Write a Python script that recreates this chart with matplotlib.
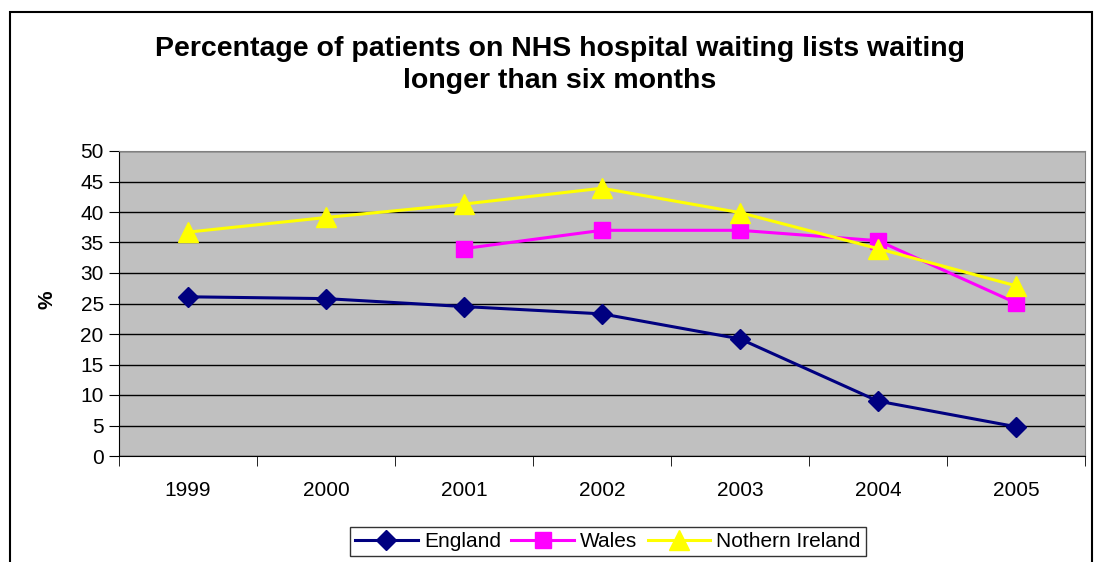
import matplotlib.pyplot as plt
from matplotlib.patches import Rectangle

# Data
years = ['1999', '2000', '2001', '2002', '2003', '2004', '2005']
england = [26.1, 25.8, 24.5, 23.3, 19.2, 9.0, 4.8]
wales = [None, None, 34.0, 37.0, 37.0, 35.3, 25.1]
northern_ireland = [36.7, 39.1, 41.3, 43.9, 39.9, 34.0, 27.9]

W, H = 1102, 562
fig = plt.figure(figsize=(W / 100, H / 100), dpi=100)
plt.rcParams['font.family'] = ['Liberation Sans', 'DejaVu Sans']

# Outer chart frame
fig.patches.append(Rectangle((10 / W, -0.1), (1092 - 10) / W, 1.1 - 12 / H,
                             transform=fig.transFigure, fill=False,
                             edgecolor='black', linewidth=1.5))

# plot area in pixels: left 119, right 1085, top 151, bottom 456
ax = fig.add_axes([119 / W, 1 - 456 / H, (1085 - 119) / W, (456 - 151) / H])
ax.set_facecolor('#C0C0C0')

x = list(range(len(years)))
ax.plot(x, england, color='#000080', marker='D', markersize=10, linewidth=2.2, label='England')
wx = [i for i, v in zip(x, wales) if v is not None]
wv = [v for v in wales if v is not None]
ax.plot(wx, wv, color='#FF00FF', marker='s', markersize=11, linewidth=2.2, label='Wales')
ax.plot(x, northern_ireland, color='#FFFF00', marker='^', markersize=15, linewidth=2.2,
        label='Nothern Ireland')

ax.set_xlim(-0.5, len(years) - 0.5)
ax.set_ylim(0, 50)
ax.set_yticks(range(0, 51, 5))
ax.yaxis.grid(True, color='black', linewidth=1)
ax.set_axisbelow(True)

ax.set_xticks(x)
ax.set_xticklabels(years)
ax.set_xticks([i - 0.5 for i in range(len(years) + 1)], minor=True)
ax.tick_params(axis='x', which='major', length=0, pad=18, labelsize=15)
ax.tick_params(axis='x', which='minor', length=7, direction='out', color='black')
ax.tick_params(axis='y', length=7, direction='out', labelsize=15, pad=4)

for side in ['top', 'right']:
    ax.spines[side].set_color('#808080')
ax.spines['left'].set_color('black')
ax.spines['bottom'].set_color('black')

fig.text(47 / W, 1 - 300 / H, '%', rotation=90, fontsize=15, fontweight='bold',
         ha='center', va='center')

fig.text(560 / W, 1 - 65 / H,
         'Percentage of patients on NHS hospital waiting lists waiting\nlonger than six months',
         ha='center', va='center', fontsize=20.5, fontweight='bold', linespacing=1.35)

leg = fig.legend(loc='upper center', bbox_to_anchor=(608 / W, 1 - 527 / H), ncol=3,
                 fontsize=15, frameon=True, fancybox=False, edgecolor='black',
                 handlelength=3.0, handletextpad=0.3, columnspacing=0.5, borderpad=0.25,
                 borderaxespad=0)
leg.get_frame().set_linewidth(1)

fig.savefig('out.png', dpi=100)
